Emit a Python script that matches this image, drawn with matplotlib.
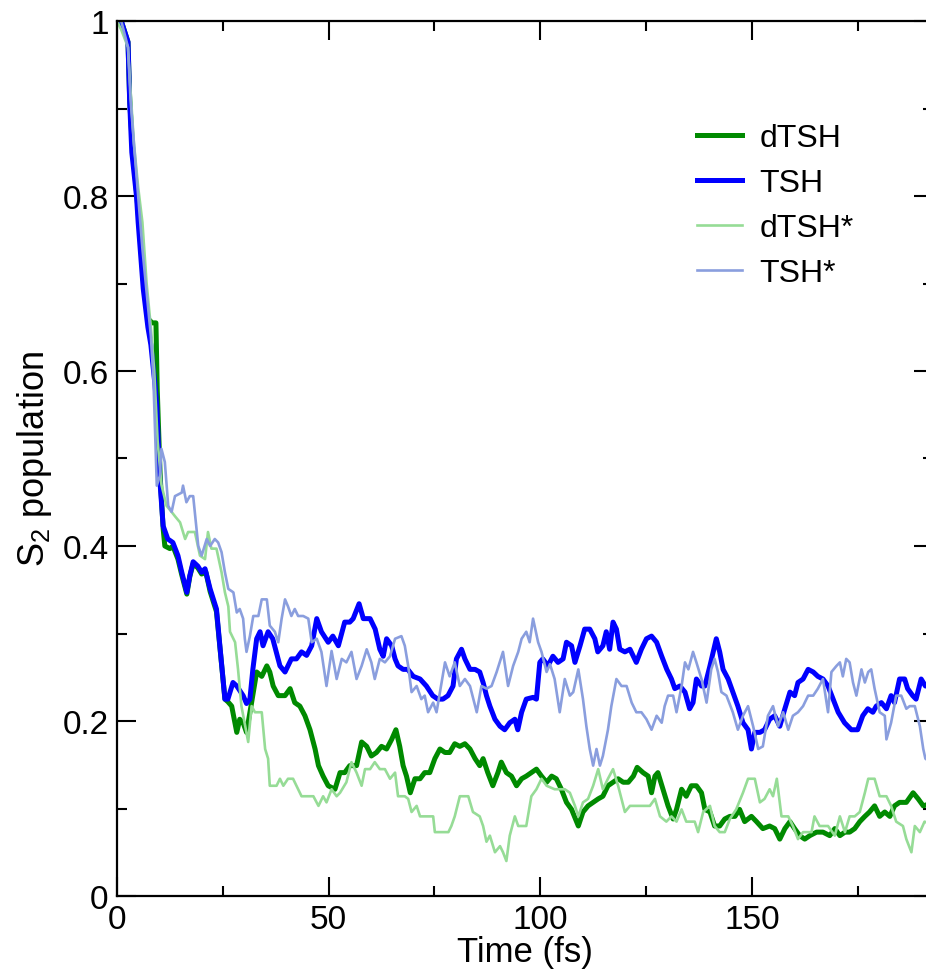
import matplotlib
matplotlib.use('Agg')
import matplotlib.pyplot as plt
from matplotlib import font_manager
from matplotlib.ticker import MultipleLocator

# font: narrow helvetica-like if available
names = {f.name for f in font_manager.fontManager.ttflist}
narrow = 'Liberation Sans Narrow' if 'Liberation Sans Narrow' in names else 'Liberation Sans'
plt.rcParams['font.family'] = ['Liberation Sans', 'DejaVu Sans']
plt.rcParams['mathtext.default'] = 'regular'

# dTSH (thick green)
t_dtsh = [0, 1.0, 2.6, 3.0, 3.6, 4.7, 5.2, 6.3, 7.3, 8.3, 9.2, 9.5, 10.2, 10.9, 11.3, 12.5, 13.2,
          14.4, 15.3, 16.5, 17.2, 18, 19.1, 20, 21, 22, 23.5, 24.3, 25.5, 26.2, 27.1, 28.3, 29,
          29.8, 30.6, 31.8, 33, 34.2, 35.4, 36.1, 36.9, 38.1, 39.7, 40.9, 42, 43.2, 44.4, 45.6,
          46.8, 47.6, 48.7, 49.9, 51.5, 52.7, 53.8, 55, 56.6, 57.8, 59, 60.1, 61.3, 62.5, 63.7,
          64.9, 65.9, 66.8, 67.6, 68.4, 69.3, 70.4, 71.6, 72.7, 73.9, 75.1, 76.3, 77.5, 78.6,
          79.8, 81, 82.2, 83.4, 84.6, 85.7, 86.5, 87.6, 88.8, 90, 90.8, 92, 93.2, 94.4, 95.6,
          96.7, 97.9, 99.1, 100.3, 101.5, 102.7, 103.8, 105, 106.2, 107.4, 109, 110.1, 111.3,
          112.5, 113.7, 114.8, 116, 117.2, 118.4, 119.6, 120.8, 122, 122.9, 124.3, 125.5, 126.3,
          127.1, 127.8, 129, 130.2, 131.4, 132.2, 133.4, 134.5, 135.7, 136.9, 138.1, 138.9,
          140.1, 141.2, 142.4, 143.6, 144.8, 146, 147.1, 148.3, 149.9, 151.1, 152.6, 154.2,
          155.4, 156.6, 157.8, 159, 160.1, 161.3, 162.5, 163.7, 165.3, 166.8, 168.4, 169.6,
          170.8, 172, 173.1, 174.3, 175.5, 176.7, 177.8, 179, 180.2, 181.4, 182.6, 183.7,
          184.9, 186.5, 188.1, 189.3, 190.5, 193]
p_dtsh = [1.0, 1.0, 0.976, 0.91, 0.86, 0.80, 0.77, 0.70, 0.66, 0.655, 0.655, 0.58, 0.48, 0.42,
          0.40, 0.397, 0.40, 0.385, 0.367, 0.345, 0.365, 0.38, 0.375, 0.368, 0.37, 0.348, 0.325,
          0.285, 0.225, 0.222, 0.217, 0.187, 0.202, 0.198, 0.187, 0.221, 0.256, 0.251, 0.263,
          0.256, 0.24, 0.229, 0.229, 0.237, 0.221, 0.217, 0.206, 0.19, 0.168, 0.149, 0.137,
          0.126, 0.122, 0.141, 0.141, 0.149, 0.149, 0.176, 0.171, 0.16, 0.164, 0.171, 0.168,
          0.179, 0.19, 0.171, 0.149, 0.137, 0.118, 0.134, 0.134, 0.141, 0.141, 0.157, 0.168,
          0.164, 0.164, 0.174, 0.171, 0.174, 0.168, 0.157, 0.149, 0.157, 0.141, 0.126, 0.141,
          0.153, 0.141, 0.137, 0.126, 0.134, 0.137, 0.141, 0.145, 0.137, 0.13, 0.137, 0.134,
          0.122, 0.107, 0.099, 0.08, 0.096, 0.103, 0.107, 0.111, 0.114, 0.126, 0.13, 0.134,
          0.13, 0.13, 0.137, 0.147, 0.141, 0.137, 0.118, 0.137, 0.141, 0.122, 0.103, 0.088,
          0.099, 0.122, 0.114, 0.126, 0.126, 0.118, 0.099, 0.096, 0.08, 0.08, 0.088, 0.091,
          0.091, 0.099, 0.085, 0.091, 0.085, 0.077, 0.08, 0.077, 0.065, 0.077, 0.085, 0.077,
          0.069, 0.065, 0.069, 0.073, 0.073, 0.069, 0.077, 0.069, 0.073, 0.073, 0.077, 0.085,
          0.091, 0.096, 0.103, 0.091, 0.096, 0.091, 0.103, 0.107, 0.107, 0.118, 0.111, 0.103,
          0.107]

# TSH (thick blue)
t_tsh = [0, 1.0, 2.6, 3.0, 3.5, 4.6, 5.0, 6.2, 7.3, 8.0, 9.0, 9.4, 10.1, 10.9, 12, 13.2, 14.4,
         15.3, 16.5, 17.2, 18, 19.1, 20, 20.8, 22, 23.5, 24.3, 25.5, 26.2, 27.4, 28.3, 29.8,
         30.6, 31.4, 32.1, 33, 33.8, 34.5, 35.7, 36.8, 38.5, 39.7, 41.2, 42.4, 43.6, 44.8, 46,
         47.2, 48.3, 49.9, 51, 52.3, 53.8, 55, 55.8, 57.2, 58.2, 59.8, 61, 62.1, 62.9, 63.7,
         64.9, 65.7, 66.4, 67.6, 68.7, 70, 71.6, 73.1, 74.6, 75.8, 77, 78.2, 79.4, 80.2, 81.4,
         82.2, 83.4, 84.6, 85.7, 86.5, 87.3, 88.1, 89.3, 90.5, 91.6, 92.8, 94, 94.7, 95.6, 96.7,
         98.3, 99.1, 99.9, 100.6, 101.8, 103, 104.2, 105.4, 106.2, 107.4, 108.2, 109.4, 110.5,
         111.7, 112.9, 113.6, 114.8, 115.6, 116.4, 117.2, 118, 118.8, 120, 121.2, 122.7, 123.9,
         125.1, 126.3, 127.5, 128.7, 129.9, 131, 131.8, 133, 134.2, 135.3, 136.1, 136.9, 138.1,
         138.9, 140.1, 141.6, 142.4, 143.2, 144.4, 145.5, 146.7, 147.9, 149.1, 149.9, 150.7,
         151.9, 153, 154.2, 155.4, 156.6, 157.8, 159, 160.1, 160.9, 162.1, 163.3, 164.5, 165.6,
         166.8, 168, 169.2, 170.4, 171.9, 173.5, 175, 176.2, 177.4, 178.6, 179.4, 180.6, 181.8,
         182.9, 183.7, 184.9, 186.1, 186.8, 188, 188.8, 190, 191, 193]
p_tsh = [1.0, 1.0, 0.976, 0.907, 0.85, 0.80, 0.77, 0.694, 0.65, 0.63, 0.583, 0.56, 0.477, 0.423,
         0.408, 0.404, 0.389, 0.37, 0.347, 0.366, 0.382, 0.377, 0.37, 0.374, 0.351, 0.328, 0.286,
         0.225, 0.225, 0.244, 0.24, 0.229, 0.22, 0.225, 0.259, 0.294, 0.302, 0.286, 0.302, 0.294,
         0.263, 0.256, 0.271, 0.271, 0.279, 0.275, 0.286, 0.317, 0.302, 0.29, 0.297, 0.286,
         0.313, 0.313, 0.317, 0.334, 0.317, 0.317, 0.305, 0.282, 0.274, 0.294, 0.286, 0.271,
         0.263, 0.259, 0.259, 0.251, 0.248, 0.24, 0.229, 0.225, 0.225, 0.229, 0.24, 0.271,
         0.282, 0.271, 0.259, 0.259, 0.256, 0.244, 0.229, 0.217, 0.202, 0.194, 0.19, 0.198,
         0.202, 0.19, 0.21, 0.225, 0.227, 0.225, 0.267, 0.271, 0.263, 0.274, 0.267, 0.271, 0.29,
         0.286, 0.267, 0.286, 0.305, 0.305, 0.294, 0.279, 0.286, 0.302, 0.282, 0.313, 0.305,
         0.282, 0.279, 0.282, 0.267, 0.282, 0.294, 0.297, 0.29, 0.274, 0.259, 0.248, 0.237,
         0.24, 0.233, 0.214, 0.221, 0.248, 0.24, 0.24, 0.263, 0.294, 0.279, 0.259, 0.248, 0.233,
         0.217, 0.198, 0.19, 0.168, 0.187, 0.187, 0.19, 0.202, 0.206, 0.194, 0.214, 0.233,
         0.229, 0.244, 0.248, 0.259, 0.256, 0.251, 0.248, 0.24, 0.225, 0.21, 0.198, 0.19, 0.19,
         0.206, 0.214, 0.21, 0.217, 0.221, 0.214, 0.229, 0.221, 0.248, 0.248, 0.237, 0.229,
         0.225, 0.248, 0.24, 0.24]

# dTSH* (light green)
t_dtsh_s = [0, 1.0, 2.6, 3.2, 4, 5, 6, 7, 8, 8.8, 9.6, 10.5, 11.7, 12.9, 13.7, 14.9, 16.1, 16.8,
            18.4, 19.6, 20.8, 21.5, 22.3, 23.5, 24.7, 25.5, 26.3, 26.7, 27.9, 28.6, 29.4, 31,
            31.8, 32.6, 34.2, 35, 35.7, 36.1, 37.7, 38.5, 39.3, 40.4, 41.6, 42.4, 43.6, 46.4,
            47.6, 48.7, 49.5, 50.7, 51.9, 52.7, 54.2, 55.4, 56.6, 57.8, 58.6, 59.8, 60.9, 62.1,
            63.3, 64.5, 65.7, 66.4, 68, 68.8, 69.6, 70.8, 71.6, 74.7, 75.1, 78.3, 79, 79.8, 81,
            83, 84.1, 85.7, 86.5, 87.3, 88.1, 89.3, 90.5, 91.2, 92, 92.8, 94, 94.8, 96.7, 97.9,
            99.1, 100.3, 101.5, 103.4, 104.6, 105.8, 107, 108.2, 109, 110.1, 111.3, 112.5, 113.7,
            114.8, 116, 117.2, 118.4, 120, 121.2, 125.9, 127.1, 128.3, 129.8, 131, 132.2, 133.4,
            134.5, 136.5, 137.3, 138.5, 140.1, 141.2, 142.4, 143.6, 144.8, 146.3, 147.9, 149.1,
            150.7, 151.9, 153, 154.2, 155, 155.9, 157, 158.6, 159.7, 160.9, 162.1, 164.1, 164.8,
            166, 168, 169.6, 170.8, 172, 173.1, 174.3, 175.5, 176.7, 177.5, 179, 180.2, 181.8,
            182.9, 184.1, 185.7, 186.5, 187.7, 188.5, 189.7, 190.8, 193]
p_dtsh_s = [1.0, 0.99, 0.97, 0.92, 0.86, 0.81, 0.77, 0.70, 0.65, 0.60, 0.52, 0.47, 0.446, 0.439,
            0.434, 0.427, 0.408, 0.416, 0.416, 0.389, 0.385, 0.416, 0.397, 0.397, 0.37, 0.347,
            0.331, 0.302, 0.29, 0.259, 0.217, 0.176, 0.217, 0.21, 0.21, 0.168, 0.157, 0.126,
            0.126, 0.134, 0.126, 0.134, 0.134, 0.126, 0.114, 0.114, 0.103, 0.114, 0.107, 0.122,
            0.114, 0.118, 0.13, 0.153, 0.141, 0.126, 0.145, 0.145, 0.153, 0.145, 0.145, 0.134,
            0.141, 0.114, 0.114, 0.111, 0.096, 0.103, 0.091, 0.091, 0.073, 0.073, 0.08, 0.091,
            0.114, 0.114, 0.096, 0.091, 0.08, 0.062, 0.069, 0.05, 0.057, 0.05, 0.04, 0.069, 0.091,
            0.08, 0.08, 0.114, 0.122, 0.134, 0.126, 0.122, 0.122, 0.122, 0.118, 0.103, 0.091,
            0.107, 0.111, 0.126, 0.145, 0.122, 0.134, 0.145, 0.126, 0.096, 0.103, 0.103, 0.111,
            0.091, 0.085, 0.091, 0.085, 0.099, 0.085, 0.085, 0.073, 0.096, 0.103, 0.08, 0.073,
            0.073, 0.088, 0.099, 0.118, 0.134, 0.134, 0.107, 0.111, 0.122, 0.114, 0.134, 0.091,
            0.091, 0.08, 0.065, 0.073, 0.073, 0.091, 0.08, 0.08, 0.069, 0.091, 0.073, 0.091,
            0.091, 0.096, 0.118, 0.134, 0.134, 0.114, 0.114, 0.103, 0.085, 0.08, 0.065, 0.05,
            0.08, 0.073, 0.085, 0.08]

# TSH* (light blue)
t_tsh_s = [0, 1.0, 2.6, 3.2, 4, 5, 6, 7, 8, 8.6, 9.4, 10.1, 10.5, 11.3, 12.1, 12.9, 13.7, 15.3,
           15.6, 16.4, 17.2, 18, 19.2, 20, 21.2, 22, 23.1, 23.9, 24.7, 25.5, 26.3, 27.5, 28.3,
           29, 29.8, 30.2, 30.6, 31.4, 32.2, 33.4, 34.2, 35.4, 36.1, 37.3, 38.1, 38.9, 39.7,
           40.4, 41.2, 42, 42.8, 44, 45.2, 46, 47.2, 48.3, 49.5, 50.7, 51.9, 53.1, 54.2, 55.4,
           56.6, 57.8, 59, 60.1, 60.9, 62.1, 63.3, 64.5, 65.7, 67.2, 68, 68.8, 69.6, 70.8, 71.9,
           72.7, 73.5, 74.7, 75.5, 76.7, 77.5, 78.6, 79.8, 81, 82.2, 83.4, 85, 86.1, 87.3, 88.5,
           89.7, 91.2, 92.4, 93.6, 94.8, 95.6, 96.7, 97.5, 98.3, 99.5, 100.3, 101.5, 102.3,
           103.4, 104.6, 105.8, 107, 107.8, 109, 110.1, 110.9, 111.7, 112.5, 113.3, 114.1,
           114.8, 116, 116.8, 118, 119.2, 120.4, 121.6, 122.7, 123.9, 125.1, 126.3, 127.5, 128.7,
           129.4, 130.2, 131.4, 132.2, 133.4, 134.2, 135, 136.1, 136.9, 138.1, 139.3, 140.4,
           141.2, 142, 142.8, 144, 145.5, 146.7, 147.9, 149.1, 150.3, 151.5, 152.6, 153.8, 155,
           156.2, 157.4, 158.6, 159.7, 160.9, 162.1, 163.3, 164.5, 165.6, 166.8, 168, 168.8, 170,
           170.8, 171.5, 172.3, 173.1, 173.9, 174.7, 175.9, 176.7, 177.5, 178.2, 179, 180.2,
           181.4, 181.8, 182.9, 184.1, 185.3, 186.5, 187.3, 188.5, 189.7, 190.5, 191, 193]
p_tsh_s = [1.0, 1.0, 0.97, 0.91, 0.86, 0.80, 0.74, 0.69, 0.64, 0.591, 0.469, 0.48, 0.511, 0.496,
           0.446, 0.439, 0.457, 0.461, 0.469, 0.45, 0.457, 0.457, 0.40, 0.389, 0.408, 0.40, 0.408,
           0.404, 0.393, 0.37, 0.351, 0.347, 0.324, 0.328, 0.317, 0.294, 0.279, 0.297, 0.32,
           0.32, 0.339, 0.339, 0.309, 0.302, 0.29, 0.317, 0.339, 0.331, 0.32, 0.328, 0.32, 0.32,
           0.317, 0.29, 0.294, 0.279, 0.24, 0.28, 0.248, 0.271, 0.267, 0.279, 0.248, 0.263,
           0.282, 0.267, 0.248, 0.271, 0.267, 0.274, 0.294, 0.297, 0.286, 0.263, 0.233, 0.24,
           0.225, 0.229, 0.21, 0.221, 0.21, 0.244, 0.267, 0.251, 0.267, 0.24, 0.248, 0.24, 0.21,
           0.24, 0.237, 0.24, 0.256, 0.279, 0.24, 0.263, 0.279, 0.294, 0.302, 0.29, 0.317, 0.29,
           0.279, 0.256, 0.265, 0.248, 0.21, 0.248, 0.229, 0.233, 0.259, 0.225, 0.194, 0.168,
           0.149, 0.168, 0.149, 0.16, 0.19, 0.217, 0.248, 0.24, 0.24, 0.221, 0.21, 0.21, 0.202,
           0.19, 0.206, 0.198, 0.217, 0.229, 0.229, 0.21, 0.24, 0.267, 0.259, 0.279, 0.267,
           0.248, 0.221, 0.259, 0.271, 0.256, 0.233, 0.229, 0.21, 0.19, 0.206, 0.217, 0.194,
           0.168, 0.171, 0.206, 0.217, 0.194, 0.21, 0.19, 0.206, 0.21, 0.217, 0.229, 0.229,
           0.237, 0.248, 0.21, 0.256, 0.263, 0.267, 0.251, 0.271, 0.267, 0.244, 0.229, 0.259,
           0.244, 0.256, 0.259, 0.237, 0.21, 0.206, 0.179, 0.198, 0.229, 0.229, 0.214, 0.217,
           0.217, 0.194, 0.168, 0.157, 0.15]

fig = plt.figure(figsize=(9.26, 9.78), dpi=100)
ax = fig.add_axes([117 / 926, 81 / 978, 816 / 926, 875 / 978])

ax.plot(t_dtsh, p_dtsh, color='#008a00', lw=3.6, label='dTSH')
ax.plot(t_tsh, p_tsh, color='#0000ff', lw=3.6, label='TSH')
ax.plot(t_dtsh_s, p_dtsh_s, color='#96dc96', lw=1.9, label='dTSH*')
ax.plot(t_tsh_s, p_tsh_s, color='#8a9ede', lw=1.9, label='TSH*')

ax.set_xlim(0, 192.8)
ax.set_ylim(0, 1)
ax.xaxis.set_major_locator(MultipleLocator(50))
ax.xaxis.set_minor_locator(MultipleLocator(25))
ax.yaxis.set_major_locator(MultipleLocator(0.2))
ax.yaxis.set_minor_locator(MultipleLocator(0.1))
ax.set_yticks([0, 0.2, 0.4, 0.6, 0.8, 1.0])
ax.set_yticklabels(['0', '0.2', '0.4', '0.6', '0.8', '1'])

ax.tick_params(which='both', direction='in', top=True, right=True, width=1.5,
               labelsize=24, pad=6)
ax.tick_params(which='major', length=14)
ax.tick_params(which='minor', length=7)
for lab in ax.get_xticklabels() + ax.get_yticklabels():
    lab.set_family([narrow, 'DejaVu Sans'])
for s in ax.spines.values():
    s.set_linewidth(1.6)

ax.set_xlabel('Time (fs)', fontsize=25, family=[narrow, 'DejaVu Sans'], labelpad=0)
ax.set_ylabel(r'S$_2$ population', fontsize=26, labelpad=6)

ax.legend(loc='upper left', bbox_to_anchor=(0.7105, 0.883), frameon=False, fontsize=23,
          handlelength=1.41, handletextpad=0.56, labelspacing=0.47, borderpad=0,
          borderaxespad=0)

fig.savefig('out.png', dpi=100)
